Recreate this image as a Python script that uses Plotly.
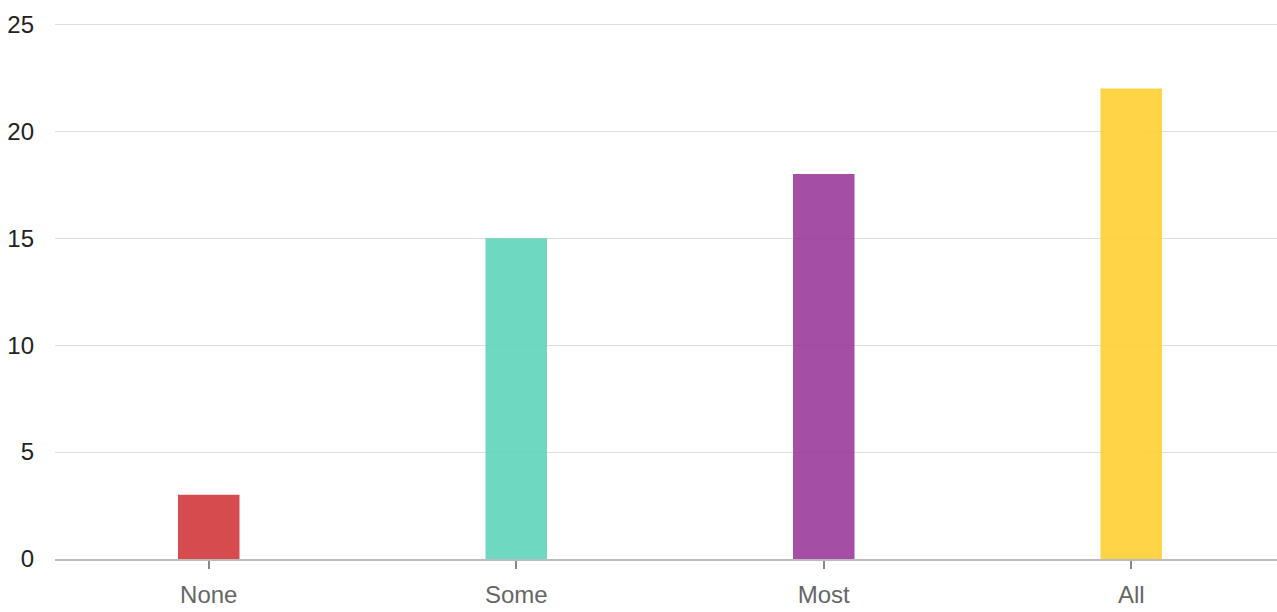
import plotly.graph_objects as go

categories = ["None", "Some", "Most", "All"]
values = [3, 15, 18, 22]
colors = ["rgba(209,55,58,0.9)", "rgba(90,212,183,0.88)", "rgba(152,53,153,0.88)", "rgba(255,207,46,0.88)"]
y_ticks = [0, 5, 10, 15, 20, 25]

fig = go.Figure(go.Bar(x=categories, y=values, marker=dict(color=colors, line=dict(width=0)), width=0.2))

fig.update_layout(
    width=1285, height=612,
    margin=dict(l=55, r=0, t=23, b=53),
    plot_bgcolor="white", paper_bgcolor="white",
    showlegend=False,
    font=dict(family="Liberation Sans Narrow, Arial Narrow, Arial, sans-serif", size=24),
)
fig.update_xaxes(
    showgrid=False, showline=True, linecolor="#bbbbbb", linewidth=2,
    ticks="outside", ticklen=8, tickcolor="#888888", tickwidth=2,
    tickfont=dict(color="#666666", size=24), automargin=False, ticklabelstandoff=5,
)
fig.update_yaxes(
    range=[0, 25.06], tickvals=y_ticks, showgrid=True, gridcolor="#dddddd", gridwidth=1,
    zeroline=False, showline=False, ticks="", ticklabelstandoff=20,
    tickfont=dict(color="#222222", size=24), automargin=False,
)
post = (
    "document.body.style.margin='0';document.body.style.overflow='hidden';"
    "var gd=document.getElementById('{plot_id}');"
    "Plotly.relayout(gd,{width:1285,height:612});"
)
fig.write_html("out.html", post_script=post,
               config={"responsive": False, "displayModeBar": False, "staticPlot": True})
